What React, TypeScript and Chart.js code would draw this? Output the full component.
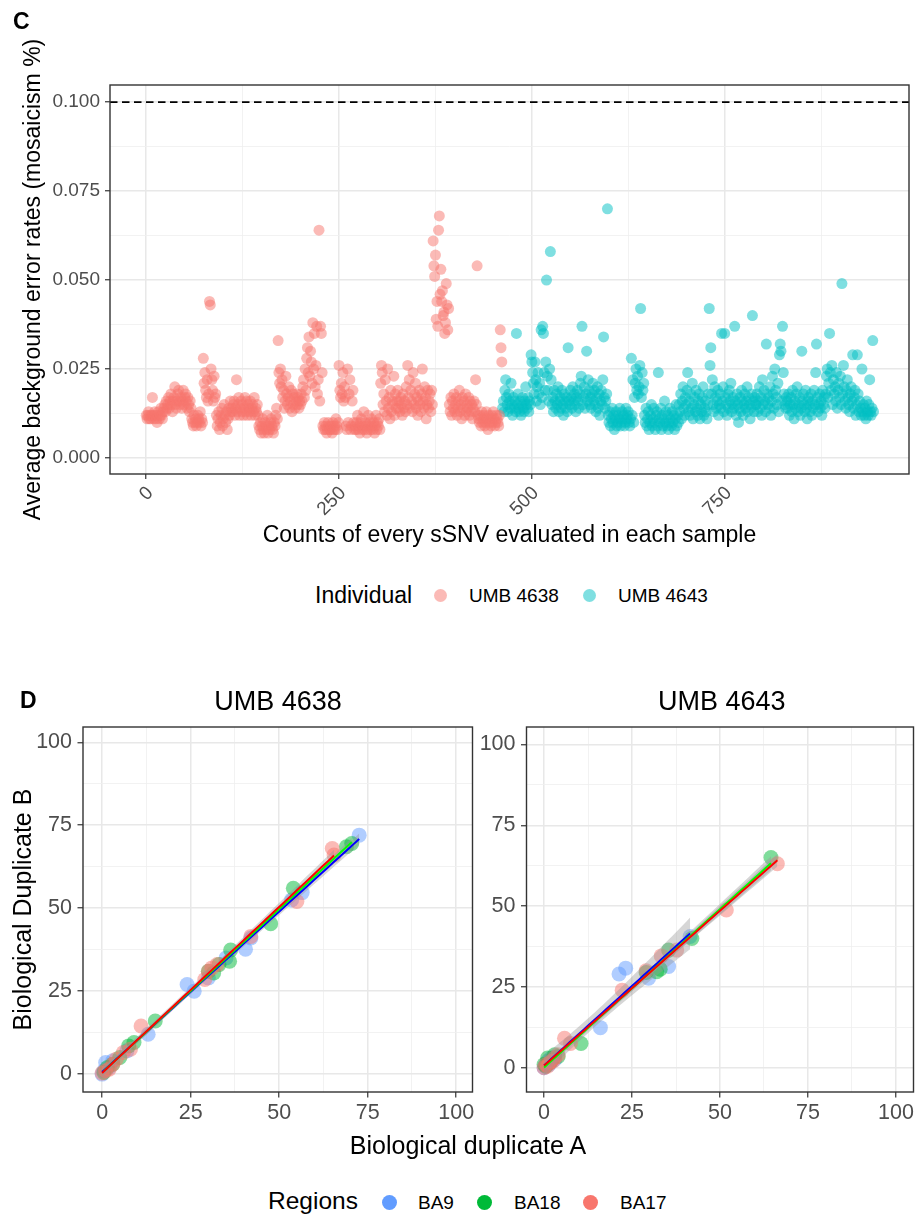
import React, { useEffect, useRef } from "react";
import { Chart, registerables } from "chart.js";
Chart.register(...registerables);

const FONT = "'Liberation Sans', Arial, Helvetica, sans-serif";

// ---------- Panel C data ----------
const individuals = ["UMB 4638", "UMB 4643"];
// average background error rate, in units of 0.001, one value per evaluated sSNV (in order)
const umb4638RateX1000 = [
  12, 11, 12, 13, 11, 12, 11, 12, 17, 12, 11, 13, 12, 11, 10, 12, 13, 11, 12, 14, 12, 11, 13,
  14, 15, 13, 16, 14, 15, 17, 14, 16, 18, 15, 13, 16, 17, 20, 15, 14, 16, 18, 19, 16, 15, 17, 14, 16, 19, 15, 17, 18, 16, 14, 17, 15, 13, 16, 14,
  11, 10, 9, 12, 10, 11, 9, 10, 12, 11, 10, 13, 9, 11, 10,
  28, 21, 24, 19, 17, 22, 16, 18, 44, 43, 25, 22, 19, 16, 23, 17, 18,
  12, 9, 11, 13, 8, 10, 12, 14, 9, 11, 15, 12, 10, 13, 8, 11, 14, 12, 16, 13,
  14, 13, 15, 16, 12, 14, 22, 13, 15, 17, 12, 14, 16, 13, 15, 12, 14, 17, 13, 16, 12, 15, 14, 13, 16, 12, 14, 15, 13, 17, 12, 14, 13, 15, 12,
  9, 8, 10, 7, 9, 11, 8, 7, 10, 9, 8, 12, 7, 9, 8, 10, 11, 9, 8, 7, 10, 9, 12, 14, 11,
  33, 24, 21, 25, 20, 22, 17, 19, 14, 16, 23, 18, 15, 17, 20, 14, 16, 19, 13, 18, 15, 17, 14, 16, 18, 15, 17, 14, 16, 15,
  18, 16, 20, 22, 17, 25, 19, 28, 31, 24, 34, 23, 30, 27, 21, 38, 25, 35, 20, 26, 37, 18, 22, 64, 16,
  37, 35, 24, 9, 8, 10, 8, 9, 7, 8, 10, 9, 8, 8, 9, 7, 10, 8, 9, 8, 11, 9,
  8, 10, 26, 19, 17, 21, 18, 24, 16, 20, 17, 9, 8, 25, 10, 18, 22, 8, 9, 16, 19, 10, 8,
  9, 8, 10, 12, 8, 9, 7, 10, 11, 8, 9, 13, 8, 10, 9, 7, 8, 12, 9, 10, 8, 11, 9, 8, 10, 7, 9, 12, 8, 10, 9, 11, 8,
  21, 26, 24, 15, 18, 13, 22, 16, 12, 25, 14, 17, 11, 19, 13, 16, 15, 23, 12, 18, 14, 16,
  19, 14, 16, 13, 17, 15, 12, 18, 14, 16, 13, 20, 15, 26, 17, 22, 14, 19, 16, 13, 24, 15, 18, 21, 14, 17, 12, 16, 19, 15, 13, 18, 25, 16, 14, 20, 17, 11, 15, 19, 14, 16, 18, 13, 19, 15,
  61, 54, 51, 57, 39, 44, 37, 64, 68, 46, 53, 44, 47, 40, 41, 35, 38, 49, 43, 36, 42,
  15, 13, 17, 12, 16, 14, 18, 13, 15, 17, 12, 14, 16, 19, 13, 15, 11, 17, 14, 16, 12, 18, 13, 15, 14, 17, 12, 16, 13, 15, 11, 14, 16, 13, 22, 15, 54, 12,
  11, 10, 12, 9, 13, 10, 11, 12, 9, 10, 13, 11, 8, 12, 10, 11, 9, 12, 10, 13, 11, 9, 10, 12, 11, 10, 9, 12,
  36, 31, 27,
];
const umb4643RateX1000 = [
  14, 16, 13, 19, 22, 17, 15, 13, 18, 16, 14, 21, 15, 12, 17, 14, 16, 13, 35, 15, 18, 14, 13, 16, 12, 15, 17, 14, 13, 16, 20, 15, 14, 17, 13, 16, 15,
  29, 27, 24, 21, 18, 27, 22, 16, 20, 24, 18, 21, 15, 36, 17, 37, 35, 24, 19, 27, 50, 23, 19, 16, 25, 58, 22,
  15, 17, 13, 19, 16, 14, 18, 15, 20, 13, 16, 17, 14, 19, 15, 12, 18, 16, 14, 17, 13, 31, 16, 15, 19, 17, 14, 20, 16, 18,
  15, 13, 17, 19, 16, 14, 18, 21, 23, 37, 15, 17, 20, 14, 18, 30, 16, 22, 19, 15, 17, 14, 18, 21, 16, 19, 15, 13, 17, 20,
  14, 18, 12, 16, 19, 15, 22, 34, 17, 14, 16, 18, 70,
  12, 10, 13, 9, 11, 14, 10, 12, 8, 11, 13, 9, 10, 12, 11, 14, 9, 10, 13, 11, 12, 9, 10, 14, 11, 12, 13, 10, 9, 11, 28, 12, 22, 10,
  17, 21, 25, 19, 23, 18, 20, 26, 42, 17, 24, 19, 21,
  12, 10, 14, 9, 11, 13, 8, 10, 12, 15, 9, 11, 14, 10, 8, 12, 13, 9, 24, 11, 10, 14, 8, 12, 9, 11, 16, 10, 13, 9, 12, 8, 10, 14, 11, 9, 13, 10, 12, 8, 11, 15, 9, 12, 10,
  15, 13, 18, 11, 16, 20, 14, 12, 17, 15, 19, 24, 13, 16, 12, 18, 14, 21, 11, 15, 17, 13, 19, 14, 12, 16, 18, 11, 15, 13, 17, 20, 12, 14, 16, 13, 11, 15, 18, 42,
  26, 31, 18, 22, 15, 13, 20, 17, 14, 16, 19, 12, 15, 18, 14, 35, 16, 20, 13, 35, 17, 15, 12, 18, 14, 19, 16, 21, 13, 15,
  17, 14, 37, 16, 12, 18, 15, 10, 14, 17, 13, 19, 16, 12, 15, 18, 14, 16, 20, 13, 17, 15, 11, 14, 18, 40, 16, 13, 17, 15,
  15, 18, 13, 16, 20, 14, 17, 12, 22, 15, 19, 16, 13, 32, 18, 15, 17, 14, 20, 12, 16, 23, 18, 14, 25, 19, 17, 15, 21, 13, 29, 32, 30, 16, 37, 24, 18, 15, 14, 17,
  16, 14, 18, 12, 15, 17, 13, 19, 15, 11, 16, 14, 18, 20, 13, 15, 17, 12, 14, 30, 16, 18, 15, 13, 19, 14, 11, 16, 17, 15,
  13, 18, 12, 16, 14, 19, 15, 24, 32, 17, 13, 15, 18, 14, 16, 12, 19, 15, 17, 14,
  18, 23, 25, 17, 21, 35, 24, 19, 26, 15, 22, 18, 20, 16, 24, 14, 19, 21, 17, 23, 15, 49, 18, 26, 20, 16, 14, 19, 22, 17,
  15, 13, 18, 20, 16, 29, 14, 17, 19, 12, 15, 29, 18, 13, 16, 14, 12, 25, 13, 15, 12, 14, 11, 16, 13, 12, 15, 22, 13, 12, 14, 33, 13,
];
const cXTicks = [0, 125, 250, 375, 500, 625, 750, 875];
const cXLabels = [0, 250, 500, 750];
const cYTicks = [0, 0.0125, 0.025, 0.0375, 0.05, 0.0625, 0.075, 0.0875, 0.1];
const cYLabels = [0, 0.025, 0.05, 0.075, 0.1];
const thresholdRate = 0.1;

// ---------- Panel D data ----------
const regions = ["BA9", "BA18", "BA17"];
const umb4638BA9 = [[0, 0], [0.5, 1], [1, 3.5], [2, 2], [3, 4], [7, 7], [13, 12], [24, 27], [26, 25], [30, 29], [35, 35], [40.5, 37.6], [42, 41], [53.5, 52.5], [56.5, 54.7], [72.6, 72]];
const umb4638BA18 = [[0.5, 0.5], [1.5, 2], [3, 3], [5, 5], [7.5, 8.5], [9, 9.5], [15, 16], [30, 31], [31.5, 30.5], [33, 33], [36, 34], [36.3, 37.4], [47.6, 45.3], [54, 56], [69, 68.5], [70.5, 69.5]];
const umb4638BA17 = [[0, 0.3], [1, 1], [2, 1.5], [3, 3], [4, 4.5], [6, 6.5], [8, 7.5], [11, 14.5], [29, 28.5], [30, 31], [31, 32], [32.5, 33], [42, 41.5], [55, 52], [65, 68], [65.5, 66]];
const umb4643BA9 = [[0, 0], [0.3, 0.5], [0.5, 1], [1, 2], [1.5, 1], [2, 3], [3, 2.5], [16, 12.4], [21.3, 29], [23.2, 30.8], [29.7, 27.7], [35.4, 31.3], [41.5, 40.6]];
const umb4643BA18 = [[0, 1], [0.5, 0.5], [1, 3], [1.5, 1.5], [2, 2], [2.5, 3], [3, 4], [4, 3.5], [10.5, 7.5], [29, 29.5], [32, 29.7], [33, 30.5], [35.4, 36.4], [42, 40], [64.5, 65]];
const umb4643BA17 = [[0, 0], [0.5, 1], [1, 0.5], [1.5, 1.5], [2, 2], [2.5, 2], [3, 3], [4, 4], [5.8, 9.1], [7.5, 7.5], [22.2, 24], [29, 30], [33.3, 34.6], [37.7, 36.4], [51.8, 48.8], [66.3, 63.1]];
const dTicks = [0, 12.5, 25, 37.5, 50, 62.5, 75, 87.5, 100];
const dLabels = [0, 25, 50, 75, 100];

const T975 = [12.706, 4.303, 3.182, 2.776, 2.571, 2.447, 2.365, 2.306, 2.262, 2.228, 2.201, 2.179, 2.16, 2.145, 2.131, 2.12, 2.11, 2.101, 2.093, 2.086];

const pointColors = ["rgba(97,156,255,0.5)", "rgba(0,186,56,0.5)", "rgba(248,118,109,0.5)"];
const legendColors = ["#619CFF", "#00BA38", "#F8766D"];
const lineColors = ["#0000FF", "#00FF00", "#FF0000"];

const near = (v: any, arr: number[]) => typeof v === "number" && arr.some((a) => Math.abs(a - v) < 1e-9);

function gridCfg(labels: number[], tickLength: number) {
  return {
    color: (c: any) => (near(c.tick && c.tick.value, labels) ? "#E8E8E8" : "#EFEFEF"),
    lineWidth: (c: any) => (near(c.tick && c.tick.value, labels) ? 1.5 : 0.8),
    tickColor: (c: any) => (near(c.tick && c.tick.value, labels) ? "#333333" : "rgba(0,0,0,0)"),
    tickLength,
    tickWidth: 1.2,
    drawTicks: true,
  };
}

const panelPlugin = {
  id: "panel",
  afterDatasetsDraw(chart: any, _a: any, opts: any) {
    if (opts && typeof opts.hline === "number") {
      const { ctx, chartArea } = chart;
      const y = chart.scales.y.getPixelForValue(opts.hline);
      ctx.save();
      ctx.strokeStyle = "#000";
      ctx.lineWidth = 1.8;
      ctx.setLineDash([7.5, 4.5]);
      ctx.beginPath();
      ctx.moveTo(chartArea.left, y);
      ctx.lineTo(chartArea.right, y);
      ctx.stroke();
      ctx.restore();
    }
  },
  afterDraw(chart: any) {
    const { ctx, chartArea } = chart;
    ctx.save();
    ctx.strokeStyle = "#333333";
    ctx.lineWidth = 1.4;
    ctx.strokeRect(chartArea.left, chartArea.top, chartArea.right - chartArea.left, chartArea.bottom - chartArea.top);
    ctx.restore();
  },
};

function panelCConfig(): any {
  const red = umb4638RateX1000.map((r, i) => ({ x: i, y: r / 1000 }));
  const teal = umb4643RateX1000.map((r, j) => ({ x: umb4638RateX1000.length + j, y: r / 1000 }));
  return {
    type: "scatter",
    data: {
      datasets: [
        { label: individuals[0], data: red, backgroundColor: "rgba(248,118,109,0.5)", borderWidth: 0, pointRadius: 5.5, pointHoverRadius: 5.5 },
        { label: individuals[1], data: teal, backgroundColor: "rgba(0,191,196,0.5)", borderWidth: 0, pointRadius: 5.5, pointHoverRadius: 5.5 },
      ],
    },
    options: {
      animation: false,
      responsive: false,
      events: [],
      layout: { padding: { left: 0, top: 85, right: 12, bottom: 6 } },
      plugins: { legend: { display: false }, tooltip: { enabled: false }, panel: { hline: thresholdRate } },
      scales: {
        x: {
          type: "linear",
          min: -47,
          max: 989,
          afterBuildTicks: (s: any) => { s.ticks = cXTicks.map((v) => ({ value: v })); },
          afterFit: (s: any) => { s.height = 80; },
          grid: gridCfg(cXLabels, 5),
          border: { display: false },
          ticks: {
            autoSkip: false,
            minRotation: 45,
            maxRotation: 45,
            padding: 3,
            labelOffset: 4,
            color: "#4D4D4D",
            font: { family: FONT, size: 19 },
            callback: (v: any) => (near(v, cXLabels) ? String(v) : ""),
          },
          title: {
            display: true,
            text: "Counts of every sSNV evaluated in each sample",
            color: "#000",
            font: { family: FONT, size: 23 },
            padding: { top: 0, bottom: 5 },
          },
        },
        y: {
          type: "linear",
          min: -0.0045,
          max: 0.1048,
          afterBuildTicks: (s: any) => { s.ticks = cYTicks.map((v) => ({ value: v })); },
          afterFit: (s: any) => { s.width = 110; },
          grid: gridCfg(cYLabels, 5),
          border: { display: false },
          ticks: {
            autoSkip: false,
            padding: 5,
            color: "#4D4D4D",
            font: { family: FONT, size: 19 },
            callback: (v: any) => (near(v, cYLabels) ? Number(v).toFixed(3) : ""),
          },
          title: {
            display: true,
            text: "Average background error rates (mosaicism %)",
            color: "#000",
            font: { family: FONT, size: 23 },
            padding: { top: 20, bottom: 0 },
          },
        },
      },
    },
    plugins: [panelPlugin],
  };
}

function fitGroup(points: number[][]) {
  const n = points.length;
  const xs = points.map((p) => p[0]);
  const ys = points.map((p) => p[1]);
  const xbar = xs.reduce((a, b) => a + b, 0) / n;
  const ybar = ys.reduce((a, b) => a + b, 0) / n;
  let sxx = 0, sxy = 0;
  for (let i = 0; i < n; i++) { sxx += (xs[i] - xbar) ** 2; sxy += (xs[i] - xbar) * (ys[i] - ybar); }
  const b = sxy / sxx;
  const a = ybar - b * xbar;
  let sse = 0;
  for (let i = 0; i < n; i++) sse += (ys[i] - a - b * xs[i]) ** 2;
  const s = Math.sqrt(sse / (n - 2));
  const t = T975[n - 3] || 1.96;
  const x0 = Math.min(...xs), x1 = Math.max(...xs);
  const line: any[] = [], upper: any[] = [], lower: any[] = [];
  const steps = 40;
  for (let k = 0; k <= steps; k++) {
    const x = x0 + ((x1 - x0) * k) / steps;
    const yh = a + b * x;
    const se = s * Math.sqrt(1 / n + (x - xbar) ** 2 / sxx);
    line.push({ x, y: yh });
    upper.push({ x, y: yh + t * se });
    lower.push({ x, y: yh - t * se });
  }
  return { line, upper, lower };
}

function panelDConfig(groups: number[][][], o: any): any {
  const fits = groups.map(fitGroup);
  const lineSets = [2, 1, 0].map((g) => ({
    type: "line", data: fits[g].line, borderColor: lineColors[g], borderWidth: 2, pointRadius: 0, fill: false, tension: 0,
  }));
  const ribbonSets: any[] = [];
  [2, 1, 0].forEach((g) => {
    ribbonSets.push({ type: "line", data: fits[g].upper, borderWidth: 0, borderColor: "rgba(0,0,0,0)", backgroundColor: "rgba(153,153,153,0.4)", pointRadius: 0, fill: "+1", tension: 0 });
    ribbonSets.push({ type: "line", data: fits[g].lower, borderWidth: 0, borderColor: "rgba(0,0,0,0)", pointRadius: 0, fill: false, tension: 0 });
  });
  const pointSets = [2, 1, 0].map((g) => ({
    label: regions[g], data: groups[g].map((p) => ({ x: p[0], y: p[1] })), backgroundColor: pointColors[g], borderWidth: 0, pointRadius: 7.5, pointHoverRadius: 7.5,
  }));
  return {
    type: "scatter",
    data: { datasets: [...lineSets, ...ribbonSets, ...pointSets] },
    options: {
      animation: false,
      responsive: false,
      events: [],
      layout: { padding: { left: 0, top: 47, right: o.padRight, bottom: 0 } },
      plugins: { legend: { display: false }, tooltip: { enabled: false } },
      scales: {
        x: {
          type: "linear",
          min: o.xMin,
          max: o.xMax,
          afterBuildTicks: (s: any) => { s.ticks = dTicks.map((v) => ({ value: v })); },
          afterFit: (s: any) => { s.height = 60; },
          grid: gridCfg(dLabels, 5.5),
          border: { display: false },
          ticks: {
            autoSkip: false, minRotation: 0, maxRotation: 0, padding: 3,
            color: "#4D4D4D", font: { family: FONT, size: 21.5 },
            callback: (v: any) => (near(v, dLabels) ? String(v) : ""),
          },
        },
        y: {
          type: "linear",
          min: o.yMin,
          max: o.yMax,
          afterBuildTicks: (s: any) => { s.ticks = dTicks.map((v) => ({ value: v })); },
          afterFit: (s: any) => { s.width = o.yWidth; },
          grid: gridCfg(dLabels, 5.5),
          border: { display: false },
          ticks: {
            autoSkip: false, padding: 5.5,
            color: "#4D4D4D", font: { family: FONT, size: 21.5 },
            callback: (v: any) => (near(v, dLabels) ? String(v) : ""),
          },
          title: {
            display: !!o.yTitle,
            text: o.yTitle || "",
            color: "#000",
            font: { family: FONT, size: 25 },
            padding: { top: 9, bottom: 0 },
          },
        },
      },
    },
    plugins: [panelPlugin],
  };
}

function Txt(props: { x: number; y: number; size: number; text: string; bold?: boolean; center?: boolean; color?: string }) {
  return (
    <div
      style={{
        position: "absolute",
        left: props.x,
        top: props.y,
        transform: `translate(${props.center ? "-50%" : "0"}, -50%)`,
        fontFamily: FONT,
        fontSize: props.size,
        fontWeight: props.bold ? 700 : 400,
        lineHeight: 1,
        whiteSpace: "nowrap",
        color: props.color || "#000",
      }}
    >
      {props.text}
    </div>
  );
}

function Dot(props: { x: number; y: number; r: number; color: string }) {
  return (
    <div
      style={{
        position: "absolute",
        left: props.x - props.r,
        top: props.y - props.r,
        width: props.r * 2,
        height: props.r * 2,
        borderRadius: "50%",
        background: props.color,
      }}
    />
  );
}

export default function App() {
  const cRef = useRef<HTMLCanvasElement>(null);
  const dlRef = useRef<HTMLCanvasElement>(null);
  const drRef = useRef<HTMLCanvasElement>(null);

  useEffect(() => {
    const charts = [
      new Chart(cRef.current as HTMLCanvasElement, panelCConfig()),
      new Chart(
        dlRef.current as HTMLCanvasElement,
        panelDConfig([umb4638BA9, umb4638BA18, umb4638BA17], {
          xMin: -5.4, xMax: 104.6, yMin: -5.4, yMax: 104.6, yWidth: 83, padRight: 7, yTitle: "Biological Duplicate B",
        })
      ),
      new Chart(
        drRef.current as HTMLCanvasElement,
        panelDConfig([umb4643BA9, umb4643BA18, umb4643BA17], {
          xMin: -5, xMax: 105, yMin: -7.5, yMax: 105.4, yWidth: 46.5, padRight: 4,
        })
      ),
    ];
    return () => charts.forEach((c) => c.destroy());
  }, []);

  return (
    <div>
      <canvas ref={cRef} width={921} height={560} style={{ position: "absolute", left: 0, top: 0, width: 921, height: 560 }} />
      <canvas ref={dlRef} width={480} height={472} style={{ position: "absolute", left: 0, top: 680, width: 480, height: 472 }} />
      <canvas ref={drRef} width={441} height={472} style={{ position: "absolute", left: 480, top: 680, width: 441, height: 472 }} />

      <Txt x={13} y={21} size={23} bold text="C" />
      <Txt x={20} y={700} size={23} bold text="D" />

      <Txt x={315} y={595} size={23} text="Individual" />
      <Dot x={440.5} y={595} r={6.5} color="rgba(248,118,109,0.5)" />
      <Txt x={469} y={595} size={19} text={individuals[0]} />
      <Dot x={589} y={595} r={6.5} color="rgba(0,191,196,0.5)" />
      <Txt x={618} y={595} size={19} text={individuals[1]} />

      <Txt x={278} y={701} size={27} center text="UMB 4638" />
      <Txt x={721.7} y={701} size={27} center text="UMB 4643" />

      <Txt x={468} y={1145} size={25} center text="Biological duplicate A" />

      <Txt x={268} y={1201} size={24.5} text="Regions" />
      <Dot x={389.5} y={1202} r={7.5} color={legendColors[0]} />
      <Txt x={418} y={1202} size={19} text={regions[0]} />
      <Dot x={484.5} y={1202} r={7.5} color={legendColors[1]} />
      <Txt x={514} y={1202} size={19} text={regions[1]} />
      <Dot x={590.5} y={1202} r={7.5} color={legendColors[2]} />
      <Txt x={620} y={1202} size={19} text={regions[2]} />
    </div>
  );
}
